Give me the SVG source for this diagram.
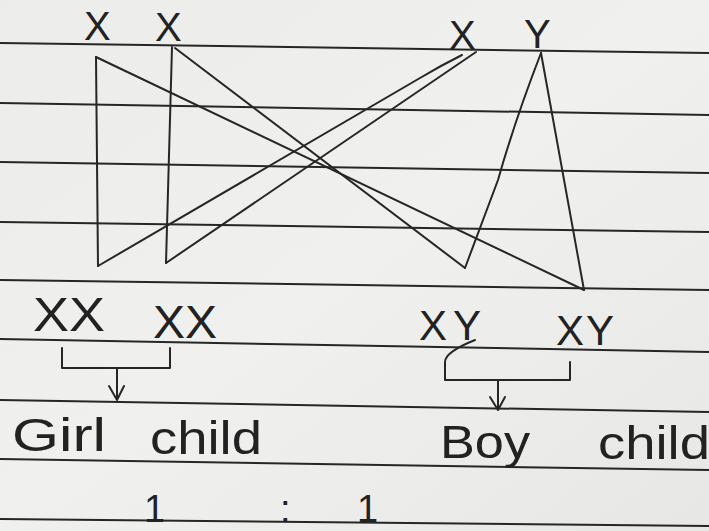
<svg xmlns="http://www.w3.org/2000/svg" width="709" height="531" viewBox="0 0 709 531">
<style>
.rule{stroke:#262626;stroke-width:2;fill:none}
.pen{stroke:#262626;stroke-width:2;fill:none;stroke-linecap:round;stroke-linejoin:round}
.t{font-family:"Liberation Sans","DejaVu Sans",sans-serif;fill:#222;font-weight:normal}
</style>
<defs>
<linearGradient id="paper" x1="0" y1="0" x2="1" y2="1">
<stop offset="0" stop-color="#ececeb"/>
<stop offset="0.5" stop-color="#f0f0ef"/>
<stop offset="1" stop-color="#e7e7e6"/>
</linearGradient>
</defs>
<rect width="709" height="531" fill="url(#paper)"/>
<g id="ruled-lines">
<line class="rule" x1="0" y1="43" x2="709" y2="53"/>
<line class="rule" x1="0" y1="103" x2="709" y2="115"/>
<line class="rule" x1="0" y1="162" x2="709" y2="173"/>
<line class="rule" x1="0" y1="222" x2="709" y2="232"/>
<line class="rule" x1="0" y1="280" x2="709" y2="290"/>
<line class="rule" x1="0" y1="339" x2="709" y2="352"/>
<line class="rule" x1="0" y1="400" x2="709" y2="412"/>
<line class="rule" x1="0" y1="459" x2="709" y2="470"/>
<line class="rule" x1="0" y1="519" x2="709" y2="526"/>
</g>
<g id="parent-mother">
<text class="t" x="84" y="40" font-size="40">X</text>
<text class="t" x="155" y="41" font-size="40">X</text>
</g>
<g id="parent-father">
<text class="t" x="449" y="49" font-size="40">X</text>
<text class="t" x="524" y="48" font-size="40">Y</text>
</g>
<g id="connectors">
<path class="pen" d="M96,57 L98,266"/>
<path class="pen" d="M96,57 L584,290"/>
<path class="pen" d="M172,47 L166,263"/>
<path class="pen" d="M175,48 L465,268"/>
<path class="pen" d="M462,55 Q440,66 420,78 L98,266"/>
<path class="pen" d="M476,52 L166,263"/>
<path class="pen" d="M541,53 Q515,120 498,180 L465,268"/>
<path class="pen" d="M541,53 L584,290"/>
<path class="pen" d="M62,348 L62,368 L170,368 L170,348"/>
<path class="pen" d="M117,368 L117,400 M109,386 L117,400 L124,386"/>
<path class="pen" d="M475,340 Q445,352 445,362 L445,380 L570,380 L570,362"/>
<path class="pen" d="M498,380 L498,410 M490,397 L498,410 L505,397"/>
</g>
<g id="offspring-xx-1">
<text class="t" x="33" y="331" font-size="48" textLength="72" lengthAdjust="spacingAndGlyphs">XX</text>
</g>
<g id="offspring-xx-2">
<text class="t" x="153" y="338" font-size="46" textLength="64" lengthAdjust="spacingAndGlyphs">XX</text>
</g>
<g id="offspring-xy-1">
<text class="t" x="419" y="340" font-size="42" textLength="62" lengthAdjust="spacing">XY</text>
</g>
<g id="offspring-xy-2">
<text class="t" x="556" y="345" font-size="42" textLength="58" lengthAdjust="spacing">XY</text>
</g>
<g id="girl-child">
<text class="t" x="12" y="451" font-size="46" textLength="94" lengthAdjust="spacingAndGlyphs">Girl</text>
<text class="t" x="150" y="454" font-size="46" textLength="112" lengthAdjust="spacingAndGlyphs">child</text>
</g>
<g id="boy-child">
<text class="t" x="440" y="458" font-size="46" textLength="90" lengthAdjust="spacingAndGlyphs">Boy</text>
<text class="t" x="598" y="459" font-size="46" textLength="112" lengthAdjust="spacingAndGlyphs">child</text>
</g>
<g id="ratio">
<text class="t" x="144" y="522" font-size="38">1</text>
<text class="t" x="280" y="522" font-size="38">:</text>
<text class="t" x="357" y="522" font-size="38">1</text>
</g>
</svg>
